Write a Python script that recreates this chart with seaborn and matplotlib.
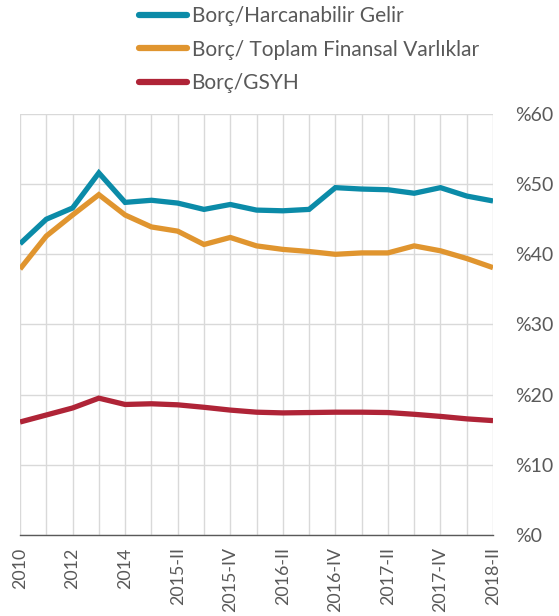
import matplotlib
matplotlib.use("Agg")
import matplotlib.pyplot as plt
import seaborn as sns
import pandas as pd

categories = ["2010", "2011", "2012", "2013", "2014", "2015-I", "2015-II", "2015-III",
              "2015-IV", "2016-I", "2016-II", "2016-III", "2016-IV", "2017-I", "2017-II",
              "2017-III", "2017-IV", "2018-I", "2018-II"]
harcanabilir = [41.5, 45.0, 46.6, 51.6, 47.4, 47.7, 47.3, 46.4, 47.1, 46.3, 46.2, 46.4,
                49.5, 49.3, 49.2, 48.7, 49.5, 48.3, 47.6]
finansal = [37.9, 42.6, 45.6, 48.5, 45.6, 43.9, 43.3, 41.4, 42.4, 41.2, 40.7, 40.4,
            40.0, 40.2, 40.2, 41.2, 40.5, 39.4, 38.1]
gsyh = [16.1, 17.1, 18.1, 19.5, 18.6, 18.7, 18.55, 18.2, 17.8, 17.5, 17.4, 17.45,
        17.5, 17.5, 17.45, 17.2, 16.9, 16.55, 16.3]
series_names = ["Borç/Harcanabilir Gelir", "Borç/ Toplam Finansal Varlıklar", "Borç/GSYH"]
colors = ["#0B8BA8", "#E0952F", "#AF2437"]
y_ticks = [0, 10, 20, 30, 40, 50, 60]
y_labels = ["%0", "%10", "%20", "%30", "%40", "%50", "%60"]

sns.set_style("white")
plt.rcParams["font.family"] = ["Lato", "DejaVu Sans"]

df = pd.DataFrame({
    "Dönem": categories * 3,
    "Değer": harcanabilir + finansal + gsyh,
    "Seri": [series_names[0]] * len(categories) + [series_names[1]] * len(categories)
            + [series_names[2]] * len(categories),
})

fig = plt.figure(figsize=(5.59, 6.16), dpi=100)
ax = fig.add_axes([0.0358, 0.1315, 0.882 - 0.0358, 0.815 - 0.1315])

sns.lineplot(data=df, x="Dönem", y="Değer", hue="Seri", palette=colors, sort=False,
             linewidth=3.8, ax=ax, legend=True)
for ln in ax.get_lines():
    ln.set_solid_capstyle("butt")
    ln.set_solid_joinstyle("miter")

ax.set_xlim(0, len(categories) - 1)
ax.set_ylim(0, 60)
ax.set_xticks(range(len(categories)))
ax.set_xticklabels([c if i % 2 == 0 else "" for i, c in enumerate(categories)],
                   rotation=90, fontsize=12.8, color="#595959")
ax.set_yticks(y_ticks)
ax.set_yticklabels(y_labels, fontsize=14, color="#595959")
ax.yaxis.tick_right()
ax.tick_params(axis="y", length=0, pad=16)
ax.tick_params(axis="x", length=5, width=1, color="#595959", direction="out", pad=4)
ax.grid(True, color="#D9D9D9", linewidth=1)
ax.set_axisbelow(True)
ax.set_xlabel("")
ax.set_ylabel("")
for s in ["top", "right", "left"]:
    ax.spines[s].set_visible(False)
ax.spines["bottom"].set_color("#595959")
ax.spines["bottom"].set_linewidth(1)

handles, labels = ax.get_legend_handles_labels()
ax.legend_.remove()
leg = fig.legend(handles, labels, loc="upper left", bbox_to_anchor=(0.216, 1.02),
                 frameon=False, fontsize=15, handlelength=2.3, handletextpad=0.2,
                 labelspacing=0.64, labelcolor="#595959")
for h in leg.get_lines():
    h.set_linewidth(4.5)
    h.set_solid_capstyle("round")

fig.savefig("out.png", dpi=100)
